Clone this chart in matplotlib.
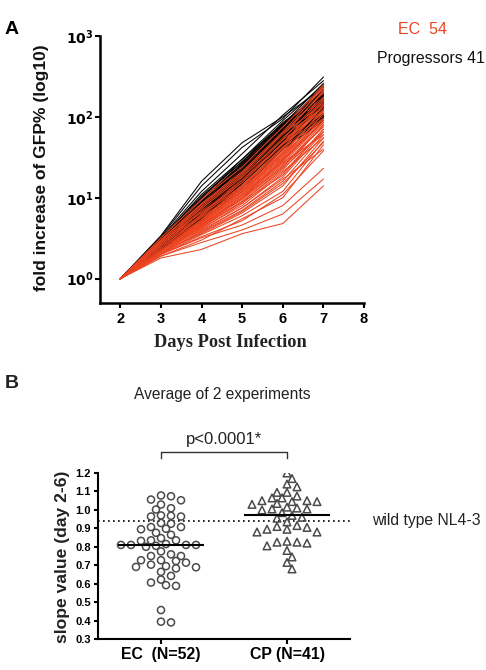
import numpy as np
import matplotlib
matplotlib.use("Agg")
import matplotlib.pyplot as plt
from matplotlib.ticker import FixedLocator, FixedFormatter, NullLocator

plt.rcParams['font.family'] = ['Liberation Sans', 'DejaVu Sans']

# ---- panel A data: fold increase of GFP% per day ----
days = [2, 3, 4, 5, 6, 7]

ec_curves = [
    [1, 1.8, 2.3, 3.6, 4.8, 14], [1, 1.9, 2.8, 4.0, 6.3, 17], [1, 2.0, 3.2, 4.6, 8, 23],
    [1, 1.9, 3.0, 5.5, 10, 45], [1, 2.0, 3.5, 6, 12, 50], [1, 2.1, 3.6, 6.5, 14, 55],
    [1, 2.1, 3.8, 7, 16, 60], [1, 2.2, 4.0, 7.5, 18, 65], [1, 2.2, 4.2, 8, 20, 70],
    [1, 2.3, 4.5, 9, 22, 80], [1, 2.3, 4.4, 10, 25, 75], [1, 2.4, 4.8, 10, 28, 90],
    [1, 2.4, 5, 11, 30, 100], [1, 2.5, 5.2, 12, 32, 110], [1, 2.5, 5.5, 12, 35, 95],
    [1, 2.6, 5.8, 13, 38, 120], [1, 2.6, 6, 14, 40, 130], [1, 2.7, 6.5, 15, 45, 140],
    [1, 2.7, 7, 17, 50, 160], [1, 2.8, 7.5, 18, 55, 180], [1, 2.9, 8, 20, 60, 200],
    [1, 3.0, 9, 22, 70, 250], [1, 3.1, 10, 26, 80, 220], [1, 2.2, 4.6, 9.5, 24, 85],
    [1, 2.3, 4.9, 11, 27, 60], [1, 2.4, 5.3, 12, 33, 105], [1, 2.5, 5.6, 13, 36, 115],
    [1, 2.6, 6.2, 14, 42, 150], [1, 2.7, 6.8, 16, 48, 170], [1, 2.8, 7.2, 17, 52, 190],
    [1, 2.0, 3.9, 7.5, 17, 40], [1, 2.1, 4.1, 8.5, 21, 55], [1, 2.2, 4.3, 9, 23, 65],
    [1, 2.3, 4.7, 10.5, 26, 90], [1, 2.4, 5.1, 11.5, 29, 100], [1, 2.5, 5.4, 12.5, 34, 125],
    [1, 2.6, 5.9, 13.5, 39, 135], [1, 2.7, 6.4, 15, 44, 145], [1, 2.8, 6.9, 16.5, 47, 165],
    [1, 2.9, 7.8, 19, 58, 210], [1, 3.0, 8.5, 21, 65, 230], [1, 2.1, 3.7, 6.8, 15, 48],
    [1, 2.2, 4.4, 8.8, 19, 70], [1, 2.3, 4.6, 9.8, 24, 78], [1, 2.4, 5.0, 10.8, 28, 95],
    [1, 2.5, 5.3, 11.8, 31, 110], [1, 2.6, 5.7, 12.8, 36, 120], [1, 2.7, 6.1, 14.2, 41, 140],
    [1, 2.8, 6.6, 15.5, 46, 155], [1, 2.9, 7.4, 18, 53, 175], [1, 3.0, 8.2, 20, 62, 200],
    [1, 3.2, 9.5, 24, 75, 240], [1, 2.0, 3.3, 5.2, 11, 38], [1, 2.2, 4.8, 10, 30, 85],
]

prog_curves = [
    [1, 3.4, 16, 48, 100, 230], [1, 3.3, 14, 42, 95, 310], [1, 3.2, 12, 35, 105, 280],
    [1, 3.1, 11, 30, 90, 250], [1, 3.0, 10, 28, 85, 200], [1, 3.0, 9.5, 26, 80, 260],
    [1, 2.9, 9, 25, 75, 190], [1, 2.9, 8.5, 24, 70, 170], [1, 2.8, 8, 22, 72, 220],
    [1, 2.8, 8, 21, 65, 160], [1, 2.7, 7.5, 20, 60, 150], [1, 2.7, 7.5, 22, 68, 140],
    [1, 2.7, 7, 19, 62, 180], [1, 2.6, 7, 18, 55, 130], [1, 2.6, 6.8, 20, 58, 120],
    [1, 2.6, 6.5, 17, 52, 140], [1, 2.5, 6.5, 16, 50, 110], [1, 2.5, 6.2, 18, 56, 160],
    [1, 2.5, 6, 15, 48, 100], [1, 2.4, 6, 17, 45, 120], [1, 2.4, 5.8, 15, 50, 130],
    [1, 2.4, 5.5, 14, 42, 95], [1, 2.3, 5.5, 16, 46, 110], [1, 2.3, 5.2, 13, 40, 90],
    [1, 2.8, 9, 27, 78, 170], [1, 2.9, 10, 30, 82, 210], [1, 3.0, 8.5, 23, 66, 145],
    [1, 2.6, 7.2, 21, 64, 175], [1, 2.7, 8, 24, 74, 200], [1, 2.5, 6.8, 19, 60, 135],
    [1, 2.8, 7.8, 22, 70, 190], [1, 2.6, 7, 20, 66, 150], [1, 2.4, 6.4, 17, 54, 125],
    [1, 2.7, 8.2, 25, 76, 240], [1, 3.1, 10.5, 28, 80, 180], [1, 2.5, 6, 16, 50, 105],
    [1, 2.9, 9, 24, 70, 155], [1, 2.6, 7.4, 22, 62, 165], [1, 2.3, 5.6, 15, 44, 100],
    [1, 2.8, 8.8, 26, 72, 185], [1, 2.4, 6.6, 18, 58, 140],
]

# ---- panel B data: slope value (day 2-6) ----
ec_slopes = [1.056, 1.078, 1.074, 1.052, 1.029, 1.002, 1.009, 0.970, 0.964, 0.964, 0.968,
             0.925, 0.929, 0.907, 0.895, 0.898, 0.907, 0.865, 0.876, 0.847, 0.835, 0.832,
             0.835, 0.81, 0.805, 0.81, 0.80, 0.815, 0.81, 0.81,
             0.775, 0.75, 0.75, 0.759, 0.727, 0.723, 0.727, 0.714, 0.703, 0.691, 0.683,
             0.689, 0.695, 0.664, 0.642, 0.622, 0.606, 0.588, 0.592, 0.457, 0.39, 0.394]
cp_slopes = [1.20, 1.17, 1.14, 1.125, 1.095, 1.095, 1.075, 1.065, 1.065,
             1.035, 1.05, 1.045, 1.045, 1.05, 1.03,
             1.015, 1.005, 1.00, 1.005, 1.01,
             0.985, 0.97, 0.96, 0.955, 0.935,
             0.91, 0.895, 0.88, 0.88, 0.895, 0.905, 0.915,
             0.83, 0.825, 0.805, 0.82, 0.825,
             0.78, 0.745, 0.715, 0.68]
group_labels = ["EC  (N=52)", "CP (N=41)"]
group_means = [0.81, 0.975]
wild_type = 0.94

red = "#ec4320"

fig = plt.figure(figsize=(4.86, 6.70), dpi=100)

# ================= panel A =================
ax = fig.add_axes([100/486, 1-303/670, 264/486, 267/670])
n = max(len(ec_curves), len(prog_curves))
for i in range(n):
    if i < len(ec_curves):
        ax.plot(days, ec_curves[i], color=red, lw=0.75)
    if i < len(prog_curves):
        ax.plot(days, prog_curves[i], color="black", lw=0.75)
ax.set_yscale("log")
ax.set_xlim(1.5, 8)
ax.set_ylim(0.5, 1000)
ax.yaxis.set_major_locator(FixedLocator([1, 10, 100, 1000]))
ax.yaxis.set_major_formatter(FixedFormatter([r"$\mathbf{10^{0}}$", r"$\mathbf{10^{1}}$",
                                             r"$\mathbf{10^{2}}$", r"$\mathbf{10^{3}}$"]))
ax.yaxis.set_minor_locator(NullLocator())
ax.set_xticks(range(2, 9))
for s in ["top", "right"]:
    ax.spines[s].set_visible(False)
for s in ["left", "bottom"]:
    ax.spines[s].set_linewidth(1.8)
ax.tick_params(axis="x", direction="out", length=3.5, width=1.5, pad=3, labelsize=10.5)
ax.tick_params(axis="y", direction="out", length=3.5, width=1.5, pad=1, labelsize=10)
for lab in ax.get_xticklabels():
    lab.set_fontweight("bold")

fig.text(42/486, 1-168/670, "fold increase of GFP% (log10)", rotation=90,
         ha="center", va="center", fontsize=12.5, fontweight="bold", color="#111111")
fig.text(230/486, 1-342/670, "Days Post Infection", ha="center", va="center",
         fontsize=13.2, fontweight="bold", family="Liberation Serif", color="#222222")
fig.text(12/486, 1-30/670, "A", ha="center", va="center", fontsize=14, fontweight="bold")
fig.text(398/486, 1-30/670, "EC  54", ha="left", va="center", fontsize=11.5, color=red)
fig.text(377/486, 1-58/670, "Progressors 41", ha="left", va="center", fontsize=11.4,
         color="#111111")

# ================= panel B =================
bx = fig.add_axes([98/486, 1-639/670, 252/486, 166/670])
bx.set_xlim(-0.5, 1.5)
bx.set_ylim(0.3, 1.2)


def swarm_x(values, center, axis, step, gap):
    # greedy column scatter on a fixed lattice, overlap checked in pixel space
    placed = []
    xs = np.zeros(len(values))
    x0 = axis.transData.transform((center, 0))[0]
    px_unit = axis.transData.transform((center + 1, 0))[0] - x0
    order = np.argsort(-np.asarray(values), kind="stable")
    steps = [0]
    for k in range(1, 16):
        steps += [k, -k]
    for idx in order:
        yp = axis.transData.transform((center, values[idx]))[1]
        for k in steps:
            off = k * step
            if all((off - px) ** 2 + (yp - py) ** 2 >= gap ** 2 for px, py in placed):
                break
        placed.append((off, yp))
        xs[idx] = center + off / px_unit
    return xs


ec_x = swarm_x(ec_slopes, 0, bx, 5, 7)
cp_x = swarm_x(cp_slopes, 1, bx, 5, 7)
bx.scatter(ec_x, ec_slopes, s=26, marker="o", facecolors="none", edgecolors="#4a4a4a",
           linewidths=1.1, zorder=3)
bx.scatter(cp_x, cp_slopes, s=30, marker="^", facecolors="none", edgecolors="#4a4a4a",
           linewidths=1.1, zorder=3)
for i, m in enumerate(group_means):
    bx.plot([i - 0.33, i + 0.33], [m, m], color="black", lw=1.5, zorder=4)
bx.plot([-0.5, 1.5], [wild_type, wild_type], color="black", lw=1.2, ls=(0, (1, 2)), zorder=2)

bx.set_xticks([0, 1])
bx.set_xticklabels(group_labels, fontweight="bold", fontsize=11.4)
bx.set_yticks(np.arange(0.3, 1.21, 0.1))
bx.set_yticklabels(["%.1f" % v for v in np.arange(0.3, 1.21, 0.1)], fontweight="bold",
                   fontsize=8)
for s in ["top", "right"]:
    bx.spines[s].set_visible(False)
for s in ["left", "bottom"]:
    bx.spines[s].set_linewidth(1.5)
bx.tick_params(axis="x", direction="out", length=3.5, width=1.5, pad=2)
bx.tick_params(axis="y", direction="out", length=3, width=1.5, pad=2)

# significance bracket
bx.plot([0, 0, 1, 1], [1.281, 1.314, 1.314, 1.281], color="#333333", lw=1.0, clip_on=False)
bx.text(0.5, 1.379, "p<0.0001*", ha="center", va="center", fontsize=12, color="#222222",
        clip_on=False)

fig.text(62/486, 1-557/670, "slope value (day 2-6)", rotation=90, ha="center", va="center",
         fontsize=12.6, fontweight="bold", color="#222222")
fig.text(372/486, 1-521/670, "wild type NL4-3", ha="left", va="center", fontsize=11.3,
         color="#222222")
fig.text(12/486, 1-383/670, "B", ha="center", va="center", fontsize=14, fontweight="bold",
         color="#222222")
fig.text(222/486, 1-395/670, "Average of 2 experiments", ha="center", va="center",
         fontsize=11.2, color="#222222")

fig.savefig("out.png", dpi=100)
